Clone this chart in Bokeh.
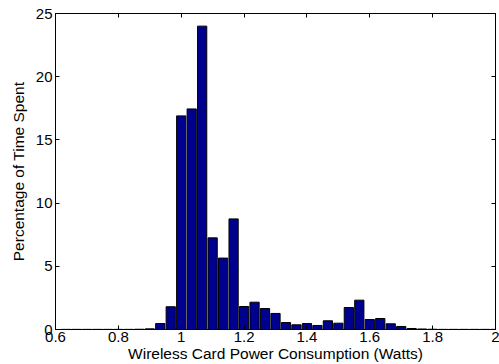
from bokeh.plotting import figure
from bokeh.models import LinearAxis, FixedTicker, Range1d, CustomLabelingPolicy
from bokeh.embed import file_html
from bokeh.resources import INLINE

# Bin centres (Watts), step 1/30 from 0.6 to 2.0
bin_start = 0.6
bin_step = 1.0 / 30.0
percent_time = [
    0.0, 0.01, 0.01, 0.01, 0.01, 0.01, 0.01, 0.01, 0.02, 0.05,
    0.47, 1.8, 16.9, 17.45, 24.0, 7.25, 5.65, 8.75, 1.82, 2.16,
    1.66, 1.27, 0.55, 0.37, 0.47, 0.32, 0.69, 0.5, 1.74, 2.32,
    0.79, 0.87, 0.45, 0.24, 0.08, 0.04, 0.02, 0.01, 0.01, 0.01,
    0.01, 0.01, 0.01,
]
power_bins = [bin_start + i * bin_step for i in range(len(percent_time))]

x_ticks = [0.6, 0.8, 1.0, 1.2, 1.4, 1.6, 1.8, 2.0]
x_tick_labels = ["0.6", "0.8", "1", "1.2", "1.4", "1.6", "1.8", "2"]
y_ticks = [0, 5, 10, 15, 20, 25]

x_label = "Wireless Card Power Consumption (Watts)"
y_label = "Percentage of Time Spent"

FONT = "Liberation Sans"

p = figure(frame_width=440, frame_height=316, output_backend="svg",
           toolbar_location=None, x_range=Range1d(0.6, 2.0),
           y_range=Range1d(0, 25), min_border_left=55, min_border_right=4,
           min_border_top=11, min_border_bottom=37)
p.background_fill_color = "white"
p.border_fill_color = "white"
p.outline_line_color = "black"
p.outline_line_width = 1
p.xgrid.visible = False
p.ygrid.visible = False

p.vbar(x=power_bins, top=percent_time, width=bin_step * 0.88, bottom=0,
       fill_color="#00008F", line_color="black", line_width=1)

no_labels = CustomLabelingPolicy(
    code="for (const i of Array.from(indices)) indices.unset(i); return indices")

def style(ax, ticks, labels=True):
    ax.ticker = FixedTicker(ticks=ticks)
    ax.major_tick_in = 4
    ax.major_tick_out = 0
    ax.minor_tick_line_color = None
    ax.axis_line_color = "black"
    ax.major_tick_line_color = "black"
    ax.major_label_text_font = FONT
    ax.major_label_text_color = "black"
    ax.major_label_text_font_size = "15px"
    if labels:
        ax.major_label_standoff = 3
    else:
        ax.major_label_policy = no_labels
        ax.major_label_standoff = 0

xa = p.xaxis[0]
style(xa, x_ticks)
xa.major_label_overrides = {t: l for t, l in zip(x_ticks, x_tick_labels)}
xa.major_label_standoff = 2
xa.axis_label = x_label
xa.axis_label_text_font = FONT
xa.axis_label_text_font_size = "15.5px"
xa.axis_label_text_font_style = "normal"
xa.axis_label_text_color = "black"
xa.axis_label_standoff = 0

ya = p.yaxis[0]
style(ya, y_ticks)
ya.axis_label = y_label
ya.axis_label_text_font = FONT
ya.axis_label_text_font_size = "15.5px"
ya.axis_label_text_font_style = "normal"
ya.axis_label_text_color = "black"
ya.axis_label_standoff = 6

top_ax = LinearAxis()
style(top_ax, x_ticks, labels=False)
p.add_layout(top_ax, "above")
right_ax = LinearAxis()
style(right_ax, y_ticks, labels=False)
p.add_layout(right_ax, "right")

open("out.html", "w").write(file_html(p, INLINE))
